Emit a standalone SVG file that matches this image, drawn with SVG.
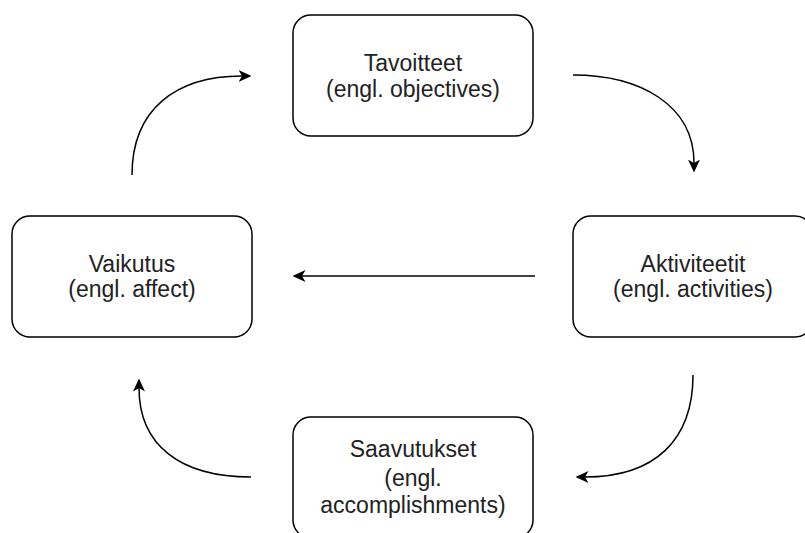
<svg xmlns="http://www.w3.org/2000/svg" width="805" height="533" viewBox="0 0 805 533">
<style>
.box{fill:#fff;stroke:#000;stroke-width:1.5}
.lbl{font-family:"Liberation Sans",Arial,sans-serif;font-size:23px;fill:#222;text-anchor:middle}
.edge{fill:none;stroke:#000;stroke-width:1.5;marker-end:url(#arr)}
</style>
<defs>
<marker id="arr" markerUnits="userSpaceOnUse" markerWidth="15" markerHeight="13" refX="3.5" refY="6" orient="auto" viewBox="0 0 15 13">
<path d="M13,6 L0,0 L3.5,6 L0,12 Z" fill="#000"/>
</marker>
</defs>
<rect width="805" height="533" fill="#fff"/>
<g id="connectors">
<path class="edge" d="M132,175 C132,110 175,76 242,76"/>
<path class="edge" d="M573,75 C640,75 694,105 694,163"/>
<path class="edge" d="M535,276 L302,276"/>
<path class="edge" d="M693,375 C693,440 655,477 585,477"/>
<path class="edge" d="M251,477 C180,477 139,445 139,388"/>
</g>
<g id="tavoitteet">
<rect class="box" x="293" y="15" width="240" height="121" rx="18"/>
<text class="lbl" x="413" y="71">Tavoitteet</text>
<text class="lbl" x="413" y="97">(engl. objectives)</text>
</g>
<g id="aktiviteetit">
<rect class="box" x="573" y="216" width="240" height="121" rx="18"/>
<text class="lbl" x="693" y="271.5">Aktiviteetit</text>
<text class="lbl" x="693" y="297">(engl. activities)</text>
</g>
<g id="vaikutus">
<rect class="box" x="12" y="216" width="240" height="121" rx="18"/>
<text class="lbl" x="132" y="271.5">Vaikutus</text>
<text class="lbl" x="132" y="297">(engl. affect)</text>
</g>
<g id="saavutukset">
<rect class="box" x="293" y="417" width="240" height="121" rx="18"/>
<text class="lbl" x="413" y="457">Saavutukset</text>
<text class="lbl" x="413" y="486">(engl.</text>
<text class="lbl" x="413" y="513">accomplishments)</text>
</g>
</svg>
